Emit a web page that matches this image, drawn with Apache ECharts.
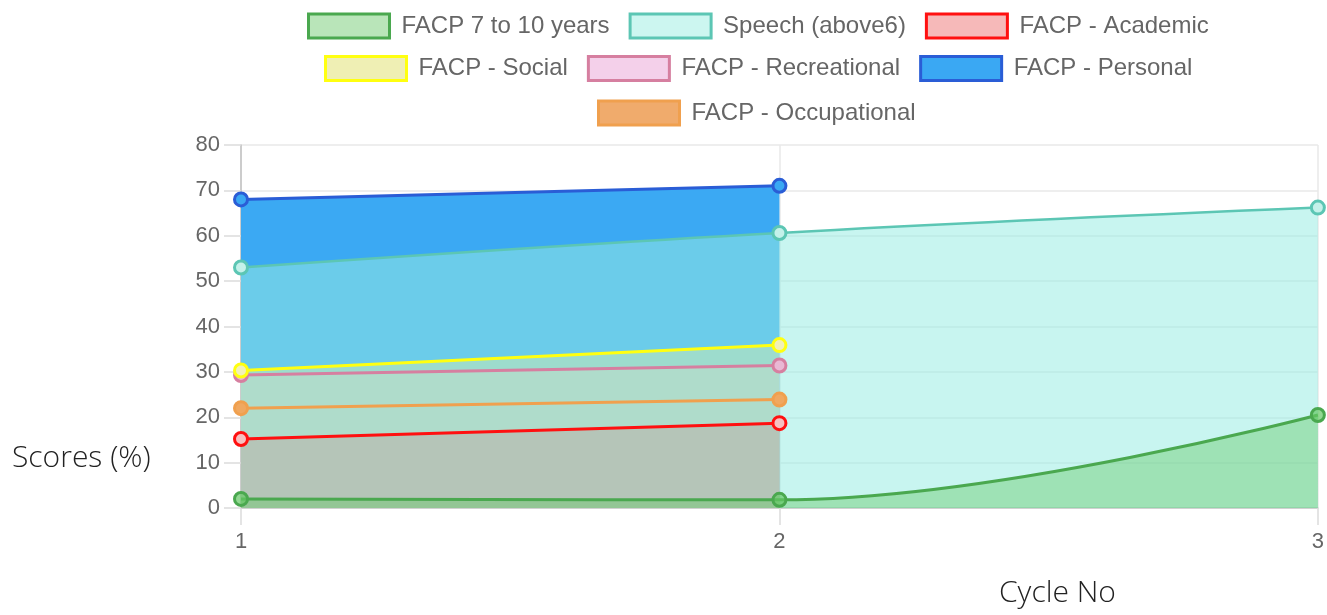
<!DOCTYPE html>
<html>
<head>
<meta charset="utf-8">
<script src="https://cdn.jsdelivr.net/npm/echarts@6/dist/echarts.min.js"></script>
<style>
html,body{margin:0;padding:0;background:#fff;}
#main{width:1327px;height:615px;}
</style>
</head>
<body>
<div id="main"></div>
<script>
const categories = ['1', '2', '3'];
const yTicks = [0, 10, 20, 30, 40, 50, 60, 70, 80];

const facp7to10 = [2, 1.8, 20.5];
const speechAbove6 = [53, 60.6, 66.2];
const facpAcademic = [15.2, 18.7];
const facpSocial = [30.3, 35.9];
const facpRecreational = [29.3, 31.4];
const facpPersonal = [68, 71];
const facpOccupational = [22, 23.9];

const seriesNames = ['FACP 7 to 10 years', 'Speech (above6)', 'FACP - Academic', 'FACP - Social', 'FACP - Recreational', 'FACP - Personal', 'FACP - Occupational'];
const seriesData = [facp7to10, speechAbove6, facpAcademic, facpSocial, facpRecreational, facpPersonal, facpOccupational];

const styles = [
  {line: '#4aa84f', area: 'rgba(100,200,100,0.42)', legend: '#b9e5b9', pt: 'rgba(100,200,100,0.7)', w: 3},
  {line: '#5cc6b4', area: 'rgba(151,236,227,0.53)', legend: '#ccf6f0', pt: '#c4f1ea', w: 2.5},
  {line: '#ff1010', area: 'rgba(235,80,80,0.4)', legend: '#f6b9b9', pt: '#f6c0c0', w: 3},
  {line: '#ffff10', area: 'rgba(235,225,140,0.6)', legend: '#efefb4', pt: '#f2f0b8', w: 3},
  {line: '#d67fa0', area: 'rgba(250,170,220,0.5)', legend: '#f4d0ea', pt: '#e9b8d4', w: 3},
  {line: '#2a5dd6', area: 'rgba(59,169,243,1)', legend: '#3aa8f3', pt: '#3aa8f3', w: 3},
  {line: '#f0a04e', area: 'rgba(235,150,80,0.85)', legend: '#f0ab6c', pt: '#f0a860', w: 3}
];

// drawing order: last dataset at the bottom
const drawOrder = [6, 5, 4, 3, 2, 1, 0];

const series = [];
drawOrder.forEach(i => {
  series.push({
    name: seriesNames[i], type: 'line', data: seriesData[i], smooth: 0.4,
    symbol: 'none', lineStyle: {width: 0, color: styles[i].line},
    itemStyle: {color: styles[i].legend},
    areaStyle: {color: styles[i].area, opacity: 1},
    silent: true, z: 1
  });
});
drawOrder.forEach(i => {
  series.push({
    name: seriesNames[i], type: 'line', data: seriesData[i], smooth: 0.4,
    symbol: 'circle', symbolSize: 13, showSymbol: true,
    lineStyle: {width: styles[i].w, color: styles[i].line},
    itemStyle: {color: styles[i].pt, borderColor: styles[i].line, borderWidth: 3},
    z: 3
  });
});

function legendItems(idx) {
  return idx.map(i => ({
    name: seriesNames[i],
    itemStyle: {color: styles[i].legend, borderColor: styles[i].line, borderWidth: 3}
  }));
}
const legendCommon = {
  icon: 'rect', itemWidth: 81, itemHeight: 24, itemGap: 19,
  textStyle: {fontFamily: 'Liberation Sans, Arial', fontSize: 24, color: '#666', padding: [0, 0, 0, 7]},
  selectedMode: false
};

const option = {
  animation: false,
  backgroundColor: '#fff',
  legend: [
    Object.assign({}, legendCommon, {left: 302, top: 7.5, data: legendItems([0, 1, 2])}),
    Object.assign({}, legendCommon, {left: 319, top: 50, data: legendItems([3, 4, 5])}),
    Object.assign({}, legendCommon, {left: 592, top: 94.5, data: legendItems([6])})
  ],
  grid: {left: 241, right: 6, top: 145, bottom: 107, containLabel: false},
  xAxis: {
    type: 'category', data: categories, boundaryGap: false,
    axisLine: {show: true, lineStyle: {color: '#c8c8c8', width: 1.5}},
    axisTick: {show: true, length: 17, lineStyle: {color: '#dcdcdc', width: 1.5}},
    axisLabel: {margin: 23, fontFamily: 'Liberation Sans, Arial', fontSize: 22, color: '#666'},
    splitLine: {show: true, lineStyle: {color: '#e8e8e8', width: 1.5}}
  },
  yAxis: {
    type: 'value', min: yTicks[0], max: yTicks[yTicks.length - 1], interval: 10,
    axisLine: {show: true, lineStyle: {color: '#c0c0c0', width: 1.5}},
    axisTick: {show: true, length: 17, lineStyle: {color: '#dcdcdc', width: 1.5}},
    axisLabel: {margin: 21, fontFamily: 'Liberation Sans, Arial', fontSize: 22, color: '#666'},
    splitLine: {show: true, lineStyle: {color: '#e8e8e8', width: 1.5}}
  },
  graphic: [
    {type: 'text', left: 12, top: 443, style: {text: 'Scores (%)', font: '300 30px "Open Sans", "Noto Sans", sans-serif', fill: '#222'}},
    {type: 'text', left: 999, top: 578, style: {text: 'Cycle No', font: '300 30px "Open Sans", "Noto Sans", sans-serif', fill: '#222'}}
  ],
  series: series
};

const chart = echarts.init(document.getElementById('main'), null, {renderer: 'canvas'});
chart.setOption(option);
</script>
</body>
</html>
